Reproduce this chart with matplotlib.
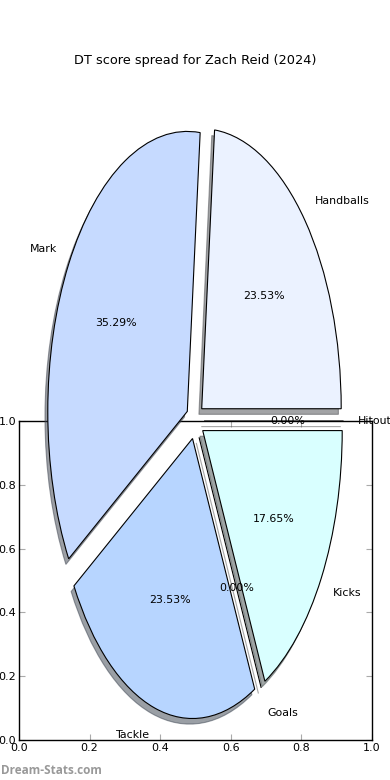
import matplotlib
matplotlib.use("Agg")
import matplotlib.pyplot as plt

labels = ["Handballs", "Mark", "Tackle", "Goals", "Kicks", "Hitout"]
values = [4, 6, 4, 0, 3, 0]
colors = ["#EBF2FF", "#C6DAFF", "#B7D5FF", "#FFFFFF", "#D9FFFF", "#FFFFFF"]
title = "DT score spread for Zach Reid (2024)"
ticks = [0.0, 0.2, 0.4, 0.6, 0.8, 1.0]

W, H = 390, 780
fig = plt.figure(figsize=(W / 100, H / 100), dpi=100)

# framed axes (lower part)
fax = fig.add_axes([19 / W, 40 / H, 353 / W, 319 / H], zorder=1)
fax.set_xlim(0, 1)
fax.set_ylim(0, 1)
fax.set_xticks(ticks)
fax.set_yticks(ticks)
fax.tick_params(direction="in", length=4, color="#aaaaaa", labelsize=8,
                top=True, right=True, labelcolor="black", pad=2)
for s in fax.spines.values():
    s.set_linewidth(1.0)
    s.set_color("black")

# pie axes (full figure, unequal aspect)
pax = fig.add_axes([0, 0, 1, 1], zorder=2)
pax.patch.set_alpha(0)
pax.set_axis_off()
cx, cy, rh, rv = 195, 359, 139.5, 280
pax.pie(values, labels=labels, colors=colors, explode=[0.065] * len(values),
        autopct="%1.2f%%", shadow={"ox": -0.0144, "oy": -0.0144},
        startangle=0, labeldistance=1.1,
        pctdistance=0.6, wedgeprops=dict(edgecolor="black", linewidth=0.8),
        textprops=dict(fontsize=7.9), frame=False)
pax.set_aspect("auto")
pax.set_xlim(-cx / rh, (W - cx) / rh)
pax.set_ylim(-cy / rv, (H - cy) / rv)

fig.text(0.5, 1 - 60.5 / H, title, ha="center", va="center", fontsize=9.3)
fig.text(0.5 / W, 1 - 770 / H, "Dream-Stats.com", ha="left", va="center",
         fontsize=8.5, color="#999999", fontweight="bold", family="Open Sans")

fig.savefig("out.png", dpi=100)
